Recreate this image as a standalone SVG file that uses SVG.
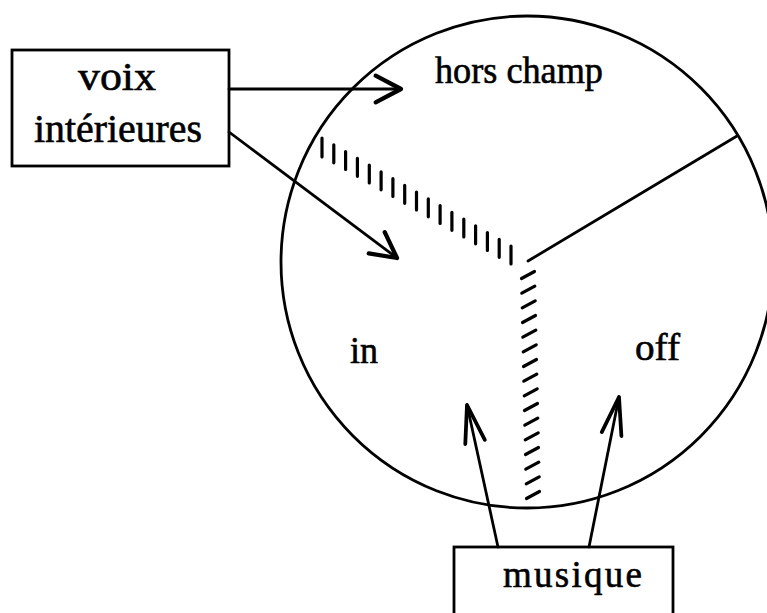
<svg xmlns="http://www.w3.org/2000/svg" width="767" height="613" viewBox="0 0 767 613">
<style>
.ln{fill:none;stroke:#000;stroke-width:2.8;stroke-linecap:round;stroke-linejoin:round}
.box{fill:#fff;stroke:#000;stroke-width:2.8}
.t{font-family:"Liberation Serif","Times New Roman",serif;fill:#000;stroke:#000;stroke-width:0.6}
.hatch{fill:none;stroke:#000;stroke-width:3.2;stroke-linecap:round}
</style>
<defs>
<marker id="ah" markerUnits="userSpaceOnUse" markerWidth="40" markerHeight="40" viewBox="-25 -15 30 30" refX="0" refY="0" orient="auto" overflow="visible">
<path d="M-19,-10 L0,0 L-19,10" fill="none" stroke="#000" stroke-width="3.2" stroke-linecap="round" stroke-linejoin="round"/>
</marker>
<marker id="ahL" markerUnits="userSpaceOnUse" markerWidth="50" markerHeight="40" viewBox="-40 -15 45 30" refX="0" refY="0" orient="auto" overflow="visible">
<path d="M-34,-9 L0,0 L-34,9" fill="none" stroke="#000" stroke-width="3.4" stroke-linecap="round" stroke-linejoin="round"/>
</marker>
</defs>
<rect width="767" height="613" fill="#fff"/>

<g id="circle">
<circle cx="527" cy="262" r="246" class="ln"/>
<line x1="528" y1="261" x2="737" y2="136" class="ln"/>
<path class="hatch" d="M322 138v19 M333.8 144.8v18 M345.6 151.5v18 M357.4 158.3v18 M369.3 165v18 M381.1 171.8v18 M392.9 178.5v18 M404.7 185.3v18 M416.5 192v18 M428.3 198.8v18 M440.1 205.5v18 M451.9 212.3v18 M463.8 219v18 M475.6 225.8v18 M487.4 232.5v18 M499.2 239.3v18 M511 246v18"/>
<path class="hatch" d="M521.5 278.5l13 -7 M521.8 293.2l13 -7 M522.2 307.8l13 -7 M522.5 322.5l13 -7 M522.8 337.2l13 -7 M523.2 351.8l13 -7 M523.5 366.5l13 -7 M523.8 381.2l13 -7 M524.2 395.8l13 -7 M524.5 410.5l13 -7 M524.8 425.2l13 -7 M525.2 439.8l13 -7 M525.5 454.5l13 -7 M525.8 469.2l13 -7 M526.2 483.8l13 -7 M526.5 498.5l13 -7"/>
<text class="t" x="435" y="83" font-size="37" textLength="168" lengthAdjust="spacingAndGlyphs">hors champ</text>
<text class="t" x="350" y="363" font-size="37" textLength="28" lengthAdjust="spacingAndGlyphs">in</text>
<text class="t" x="635" y="360" font-size="38" textLength="45" lengthAdjust="spacingAndGlyphs">off</text>
</g>

<g id="voix">
<rect x="12" y="50" width="217" height="116" class="box"/>
<text class="t" x="78" y="90" font-size="41" textLength="78" lengthAdjust="spacingAndGlyphs">voix</text>
<text class="t" x="34" y="142" font-size="40" textLength="168" lengthAdjust="spacingAndGlyphs">intérieures</text>
</g>

<g id="musique">
<rect x="454" y="547" width="219" height="90" class="box"/>
<text class="t" x="503" y="587" font-size="37" textLength="139" lengthAdjust="spacing">musique</text>
</g>

<g id="connectors">
<line x1="229" y1="89" x2="401" y2="89" class="ln" marker-end="url(#ah)"/>
<line x1="229" y1="132" x2="397" y2="258" class="ln" marker-end="url(#ah)"/>
<line x1="498" y1="547" x2="467" y2="405" class="ln" marker-end="url(#ahL)"/>
<line x1="589" y1="547" x2="619" y2="397" class="ln" marker-end="url(#ahL)"/>
</g>
</svg>
